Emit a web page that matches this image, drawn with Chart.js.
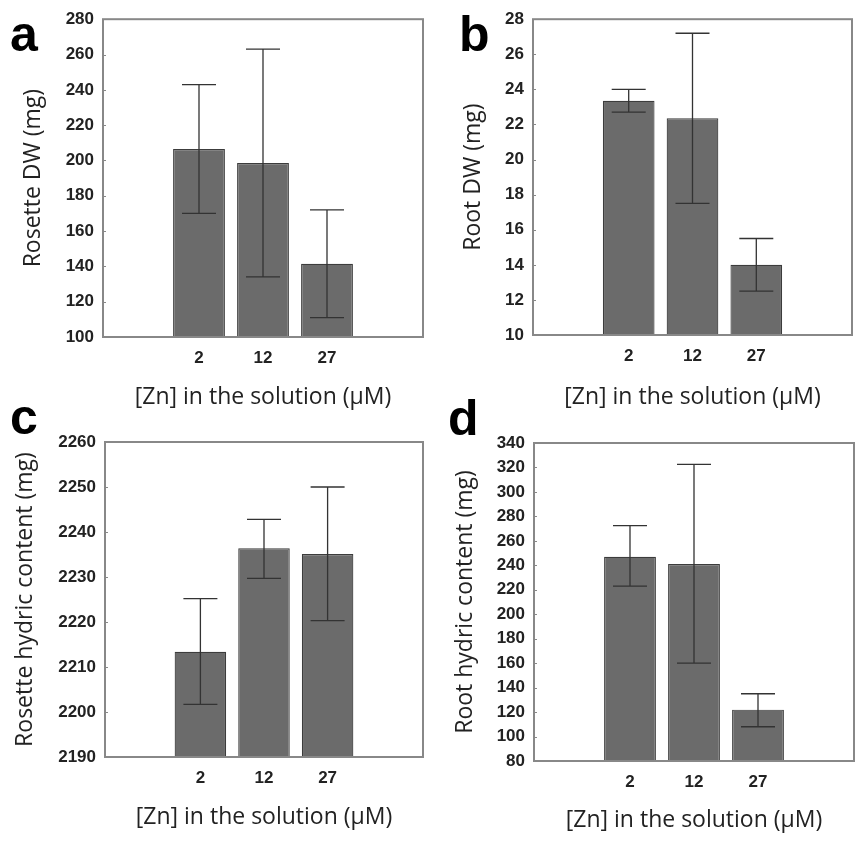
<!DOCTYPE html>
<html>
<head>
<meta charset="utf-8">
<script src="https://cdn.jsdelivr.net/npm/chart.js@4/dist/chart.umd.min.js"></script>
<style>
  body { margin: 0; background: #fff; }
  #wrap { position: relative; width: 856px; height: 843px; }
  .pane { position: absolute; }
  .letter { position: absolute; font: bold 50px "Liberation Sans", Arial, sans-serif; color: #000; line-height: 1; }
</style>
</head>
<body>
<div id="wrap">
  <div class="pane" style="left:0;top:0;width:428px;height:420px"><canvas id="cA"></canvas></div>
  <div class="pane" style="left:428px;top:0;width:428px;height:420px"><canvas id="cB"></canvas></div>
  <div class="pane" style="left:0;top:420px;width:428px;height:423px"><canvas id="cC"></canvas></div>
  <div class="pane" style="left:428px;top:420px;width:428px;height:423px"><canvas id="cD"></canvas></div>
  <div class="letter" style="left:10px;top:9px">a</div>
  <div class="letter" style="left:459px;top:9px">b</div>
  <div class="letter" style="left:10px;top:392px">c</div>
  <div class="letter" style="left:448px;top:393px">d</div>
</div>
<script>
// [Zn] dans la solution (µM)
const zinc = ['2', '12', '27'];
const xTitle = '[Zn] in the solution (\u00b5M)';

// a - matière sèche rosette
const rosetteDW = [206.5, 198.5, 141.5];
const rosetteDWLow = [170, 134, 111];
const rosetteDWHigh = [243, 263, 172];

// b - matière sèche racine
const rootDW = [23.35, 22.35, 14.0];
const rootDWLow = [22.7, 17.5, 12.5];
const rootDWHigh = [24.0, 27.2, 15.5];

// c - teneur en eau rosette
const rosetteWater = [2213.4, 2236.4, 2235.1];
const rosetteWaterLow = [2201.7, 2229.7, 2220.3];
const rosetteWaterHigh = [2225.2, 2242.8, 2250.0];

// d - teneur en eau racine
const rootWater = [247, 241, 122];
const rootWaterLow = [223, 160, 108];
const rootWaterHigh = [272.5, 322.5, 135];

// une case vide de chaque côté, comme sur la figure
const labels = [''].concat(zinc, ['']);
const pad = arr => [null].concat(arr, [null]);

// barres d'erreur + cadre autour du graphique
const errorBars = {
  id: 'errorBars',
  afterDatasetsDraw(chart, args, opts) {
    const ctx = chart.ctx;
    const x = chart.scales.x, y = chart.scales.y;
    ctx.save();
    ctx.strokeStyle = '#333';
    ctx.lineWidth = 1.3;
    opts.low.forEach((lo, i) => {
      const px = x.getPixelForValue(i + 1);
      const y1 = y.getPixelForValue(lo), y2 = y.getPixelForValue(opts.high[i]);
      ctx.beginPath();
      ctx.moveTo(px, y1); ctx.lineTo(px, y2);
      ctx.moveTo(px - 17, y1); ctx.lineTo(px + 17, y1);
      ctx.moveTo(px - 17, y2); ctx.lineTo(px + 17, y2);
      ctx.stroke();
    });
    const a = chart.chartArea;
    ctx.strokeStyle = '#888';
    ctx.lineWidth = 2;
    ctx.strokeRect(a.left, a.top, a.right - a.left, a.bottom - a.top);
    // petits traits des graduations vers l'intérieur
    ctx.lineWidth = 1;
    y.ticks.forEach(t => {
      const py = Math.round(y.getPixelForValue(t.value)) + 0.5;
      ctx.beginPath(); ctx.moveTo(a.left, py); ctx.lineTo(a.left + 3, py); ctx.stroke();
    });
    ctx.restore();
  }
};

function makeChart(id, values, low, high, yTitle, yMin, yMax, yStep, box) {
  // box: [gauche, haut, droite, bas] de la zone de tracé, hauteur du canvas, centre du titre y, centre du titre x
  const [left, top, right, bottom, H, titleX, titleY] = box;
  const half = 23 * 1.2 / 2;
  return new Chart(document.getElementById(id).getContext('2d'), {
    type: 'bar',
    data: {
      labels: labels,
      datasets: [{
        data: pad(values),
        backgroundColor: '#6b6b6b',
        borderColor: '#3c3c3c',
        borderWidth: 1.2,
        barPercentage: 0.81,
        categoryPercentage: 1
      }]
    },
    plugins: [errorBars],
    options: {
      responsive: true,
      maintainAspectRatio: false,
      animation: false,
      layout: { padding: { left: 0, top: top, right: 428 - right, bottom: 0 } },
      plugins: {
        legend: { display: false },
        tooltip: { enabled: false },
        errorBars: { low: low, high: high }
      },
      scales: {
        x: {
          offset: true,
          grid: { display: false, drawTicks: false },
          border: { display: false },
          ticks: { padding: 11, color: '#222', font: { family: 'Liberation Sans', size: 17, weight: 'bold' } },
          title: { display: true, text: xTitle, color: '#222', padding: { top: 0, bottom: H - titleY - half },
                   font: { family: 'Open Sans', size: 23 } },
          afterFit: s => { s.height = H - bottom; }
        },
        y: {
          min: yMin, max: yMax,
          grid: { display: false, drawTicks: false },
          border: { display: false },
          ticks: { stepSize: yStep, padding: 9, color: '#222', callback: v => String(v),
                   font: { family: 'Liberation Sans', size: 17, weight: 'bold' } },
          title: { display: true, text: yTitle, color: '#222', padding: { top: titleX - half, bottom: 0 },
                   font: { family: 'Open Sans', size: 23 } },
          afterFit: s => { s.width = left; }
        }
      }
    }
  });
}

makeChart('cA', rosetteDW, rosetteDWLow, rosetteDWHigh, 'Rosette DW (mg)', 100, 280, 20,
  [103, 17, 423, 337, 420, 33, 397]);
makeChart('cB', rootDW, rootDWLow, rootDWHigh, 'Root DW (mg)', 10, 28, 2,
  [105, 17, 424, 335, 420, 45, 397]);
makeChart('cC', rosetteWater, rosetteWaterLow, rosetteWaterHigh, 'Rosette hydric content (mg)', 2190, 2260, 10,
  [105, 22, 423, 337, 423, 25, 397]);
makeChart('cD', rootWater, rootWaterLow, rootWaterHigh, 'Root hydric content (mg)', 80, 340, 20,
  [106, 23, 426, 341, 423, 37, 400]);
</script>
</body>
</html>
